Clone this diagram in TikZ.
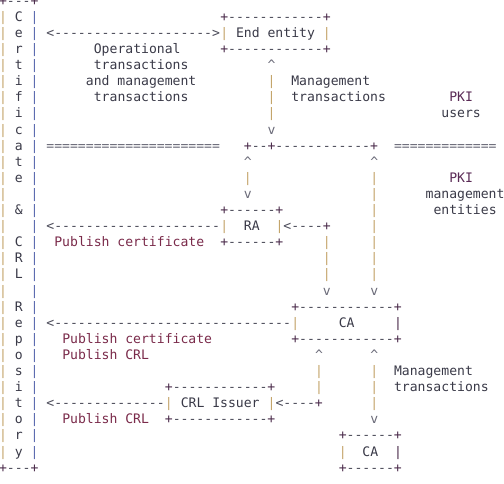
\documentclass[tikz,border=0pt]{standalone}
\usepackage{fontspec}
\setmonofont{DejaVu Sans Mono}
\definecolor{tan}{HTML}{C4A46A}
\definecolor{bar}{HTML}{5C6BB0}
\definecolor{dash}{HTML}{4A4A58}
\definecolor{plus}{HTML}{4A2A4A}
\definecolor{txt}{HTML}{3A3A48}
\definecolor{pub}{HTML}{7A2A4A}
\definecolor{pki}{HTML}{5A2A55}
\definecolor{arr}{HTML}{6A6A78}
\tikzset{tt/.style={inner sep=0pt, outer sep=0pt, anchor=base west, font=\ttfamily\fontsize{13.1}{16}\selectfont}}
\newcommand\tx[5]{\node[tt,text=#4] (#1) at ({7.9*(#2)-0.95},{-16.1*(#3)-5.2}) {#5};}
\newcommand\pl{\textcolor{plus}{+}}
\newcommand\dl[1]{\textcolor{dash}{#1}}
\begin{document}
\begin{tikzpicture}[x=1pt,y=1pt]
\useasboundingbox[fill=white] (0,0) rectangle (504,-483);
% repository column
\tx{top}{0}{0}{dash}{\pl\dl{---}\pl}
\tx{bot}{0}{29}{dash}{\pl\dl{---}\pl}
\foreach \r in {1,...,28}{\tx{B\r}{0}{\r}{tan}{|}\tx{D\r}{4}{\r}{bar}{|}}
\foreach \r/\l in {1/C,2/e,3/r,4/t,5/i,6/f,7/i,8/c,9/a,10/t,11/e,13/\&,15/C,16/R,17/L,19/R,20/e,21/p,22/o,23/s,24/i,25/t,26/o,27/r,28/y}{\tx{L\r}{2}{\r}{txt}{\l}}
% End entity
\tx{eeT}{28}{1}{dash}{\pl\dl{------------}\pl}
\tx{eeL}{28}{2}{tan}{|}
\tx{ee}{30}{2}{txt}{End entity}
\tx{eeR}{41}{2}{tan}{|}
\tx{eeB}{28}{3}{dash}{\pl\dl{------------}\pl}
\tx{a1}{6}{2}{dash}{<--------------------{}>}
\tx{op1}{12}{3}{txt}{Operational}
\tx{op2}{12}{4}{txt}{transactions}
\tx{op3}{11}{5}{txt}{and management}
\tx{op4}{12}{6}{txt}{transactions}
% EE - RA/CA
\tx{e1}{34}{4}{arr}{\textasciicircum}
\tx{e2}{34}{5}{tan}{|}
\tx{e3}{34}{6}{tan}{|}
\tx{e4}{34}{7}{tan}{|}
\tx{e5}{34}{8}{arr}{v}
\tx{m1}{37}{5}{txt}{Management}
\tx{m2}{37}{6}{txt}{transactions}
\tx{pk1}{57}{6}{pki}{PKI}
\tx{pk2}{56}{7}{txt}{users}
% separator
\tx{sepL}{6}{9}{arr}{======================}
\tx{sepM}{31}{9}{dash}{\pl\dl{--}\pl\dl{------------}\pl}
\tx{sepR}{50}{9}{arr}{=============}
\tx{u1}{31}{10}{arr}{\textasciicircum}
\tx{u2}{31}{11}{tan}{|}
\tx{u3}{31}{12}{arr}{v}
\tx{w1}{47}{10}{arr}{\textasciicircum}
\foreach \r in {11,...,17}{\tx{W\r}{47}{\r}{tan}{|}}
\tx{w2}{47}{18}{arr}{v}
\tx{pk3}{57}{11}{pki}{PKI}
\tx{pk4}{54}{12}{txt}{management}
\tx{pk5}{55}{13}{txt}{entities}
% RA
\tx{raT}{28}{13}{dash}{\pl\dl{------}\pl}
\tx{raL}{28}{14}{tan}{|}
\tx{ra}{31}{14}{txt}{RA}
\tx{raR}{35}{14}{tan}{|}
\tx{raB}{28}{15}{dash}{\pl\dl{------}\pl}
\tx{a2}{6}{14}{dash}{<---------------------}
\tx{p1}{7}{15}{pub}{Publish certificate}
\tx{a3}{36}{14}{dash}{<----\pl}
\tx{v1}{41}{15}{tan}{|}
\tx{v2}{41}{16}{tan}{|}
\tx{v3}{41}{17}{tan}{|}
\tx{v4}{41}{18}{arr}{v}
% CA
\tx{caT}{37}{19}{dash}{\pl\dl{------------}\pl}
\tx{caL}{37}{20}{tan}{|}
\tx{ca}{43}{20}{txt}{CA}
\tx{caR}{50}{20}{plus}{|}
\tx{caB}{37}{21}{dash}{\pl\dl{------------}\pl}
\tx{a4}{6}{20}{dash}{<------------------------------}
\tx{p2}{8}{21}{pub}{Publish certificate}
\tx{p3}{8}{22}{pub}{Publish CRL}
\tx{x1}{40}{22}{arr}{\textasciicircum}
\tx{x2}{40}{23}{tan}{|}
\tx{x3}{40}{24}{tan}{|}
\tx{y1}{47}{22}{arr}{\textasciicircum}
\tx{y2}{47}{23}{tan}{|}
\tx{y3}{47}{24}{tan}{|}
\tx{y4}{47}{25}{tan}{|}
\tx{y5}{47}{26}{arr}{v}
\tx{m3}{50}{23}{txt}{Management}
\tx{m4}{50}{24}{txt}{transactions}
% CRL issuer
\tx{ciT}{21}{24}{dash}{\pl\dl{------------}\pl}
\tx{ciL}{21}{25}{tan}{|}
\tx{ci}{23}{25}{txt}{CRL Issuer}
\tx{ciR}{34}{25}{tan}{|}
\tx{ciB}{21}{26}{dash}{\pl\dl{------------}\pl}
\tx{a5}{6}{25}{dash}{<--------------}
\tx{a6}{35}{25}{dash}{<----\pl}
\tx{p4}{8}{26}{pub}{Publish CRL}
% second CA
\tx{cbT}{43}{27}{dash}{\pl\dl{------}\pl}
\tx{cbL}{43}{28}{tan}{|}
\tx{cb}{46}{28}{txt}{CA}
\tx{cbR}{50}{28}{plus}{|}
\tx{cbB}{43}{29}{dash}{\pl\dl{------}\pl}
\end{tikzpicture}
\end{document}
